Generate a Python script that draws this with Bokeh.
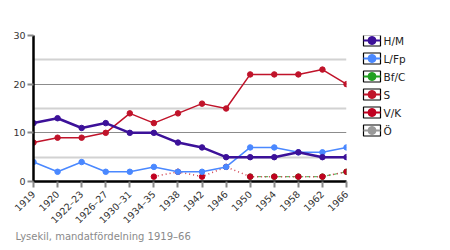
import math
from bokeh.plotting import figure
from bokeh.layouts import row
from bokeh.models import Range1d, FixedTicker, Title, ColumnDataSource
from bokeh.core.properties import value
from bokeh.embed import file_html
from bokeh.resources import INLINE

categories = ["1919", "1920", "1922–23", "1926–27", "1930–31", "1934–35", "1938",
              "1942", "1946", "1950", "1954", "1958", "1962", "1966"]
N = None
hm  = [12, 13, 11, 12, 10, 10, 8, 7, 5, 5, 5, 6, 5, 5]
lfp = [4, 2, 4, 2, 2, 3, 2, 2, 3, 7, 7, 6, 6, 7]
bfc = [N, N, N, N, N, N, N, N, N, 1, 1, 1, 1, 2]
s   = [8, 9, 9, 10, 14, 12, 14, 16, 15, 22, 22, 22, 23, 20]
vk  = [N, N, N, N, N, 1, 2, 1, 3, 1, 1, 1, 1, 2]
ov  = [N] * 14

series_names = ["H/M", "L/Fp", "Bf/C", "S", "V/K", "Ö"]
series_vals = [hm, lfp, bfc, s, vk, ov]
colors = ["#3c1199", "#4a88ff", "#22a022", "#c0132a", "#c00020", "#9a9a9a"]
line_colors = ["#3c1199", "#4a88ff", "#66bb66", "#c0132a", "#d04050", "#9a9a9a"]
widths = [2.5, 1.5, 1.2, 1.5, 1.5, 1.5]
dashes = ["solid", "solid", "4 3", "solid", "1 3", "solid"]
draw_order = [5, 2, 4, 3, 1, 0]

yticks = [0, 10, 20, 30]
FONT = "DejaVu Sans"

def clean(v):
    return [float("nan") if a is None else a for a in v]

xs = list(range(len(categories)))

p = figure(width=350, height=250, output_backend="svg", toolbar_location=None,
           x_range=Range1d(0, len(categories) - 1), y_range=Range1d(0, 30),
           min_border_left=33, min_border_right=4, min_border_top=35, min_border_bottom=69)
p.outline_line_color = None
p.background_fill_color = "white"
p.border_fill_color = "white"

p.xgrid.visible = False
p.ygrid.ticker = FixedTicker(ticks=[10, 20], minor_ticks=[5, 15, 25, 30])
p.ygrid.grid_line_color = "#8c8c8c"
p.ygrid.grid_line_width = 1
p.ygrid.minor_grid_line_color = "#d2d2d2"
p.ygrid.minor_grid_line_width = 2

p.yaxis.ticker = FixedTicker(ticks=yticks, minor_ticks=[])
p.xaxis.ticker = FixedTicker(ticks=xs, minor_ticks=[])
p.xaxis.major_label_overrides = {i: c for i, c in enumerate(categories)}
p.xaxis.major_label_orientation = math.pi / 4
for ax in (p.xaxis, p.yaxis):
    ax.axis_line_color = "black"
    ax.axis_line_width = 2.5
    ax.major_tick_line_color = "#8a8a8a"
    ax.major_tick_line_width = 2
    ax.major_tick_in = 0
    ax.major_tick_out = 6
    ax.minor_tick_line_color = None
    ax.major_label_text_font = FONT
    ax.major_label_text_font_size = "9.5px"
    ax.major_label_text_color = "#333333"
p.yaxis.major_label_standoff = 2
p.xaxis.major_label_standoff = 5

for i in draw_order:
    src = ColumnDataSource(dict(x=xs, y=clean(series_vals[i])))
    p.line("x", "y", source=src, line_color=line_colors[i], line_width=widths[i],
           line_dash=dashes[i])
    p.scatter("x", "y", source=src, marker="circle", size=5.5,
              fill_color=colors[i], line_color=colors[i])

cap = Title(text="Lysekil, mandatfördelning 1919–66", align="left",
            text_font=FONT, text_font_size="10px", text_font_style="normal",
            text_color="#8a8a8a", offset=-18, standoff=-7)
p.add_layout(cap, "below")

# legend panel
lg = figure(width=100, height=250, output_backend="svg", toolbar_location=None,
            x_range=Range1d(350, 450), y_range=Range1d(7.833, -0.2778),
            min_border_left=0, min_border_right=0, min_border_top=35,
            min_border_bottom=69)
lg.axis.visible = False
lg.grid.visible = False
lg.outline_line_color = None
rows_i = list(range(len(series_names)))
lsrc = ColumnDataSource(dict(y=rows_i, c=colors, name=series_names))
lg.rect(x=371.5, y="y", width=17, height=11, width_units="screen",
        height_units="screen", source=lsrc, fill_color="white",
        line_color="black", line_width=1.2)
lg.segment(x0=363, x1=380, y0="y", y1="y", source=lsrc, line_color="c", line_width=2)
lg.scatter(x=371.5, y="y", source=lsrc, marker="circle", size=8,
           fill_color="c", line_color="c")
lg.text(x=383, y="y", text="name", source=lsrc, text_font=value(FONT),
        text_font_size="10.5px", text_baseline="middle", text_color="#222222")

layout = row(p, lg)
open("out.html", "w").write(file_html(layout, INLINE))
